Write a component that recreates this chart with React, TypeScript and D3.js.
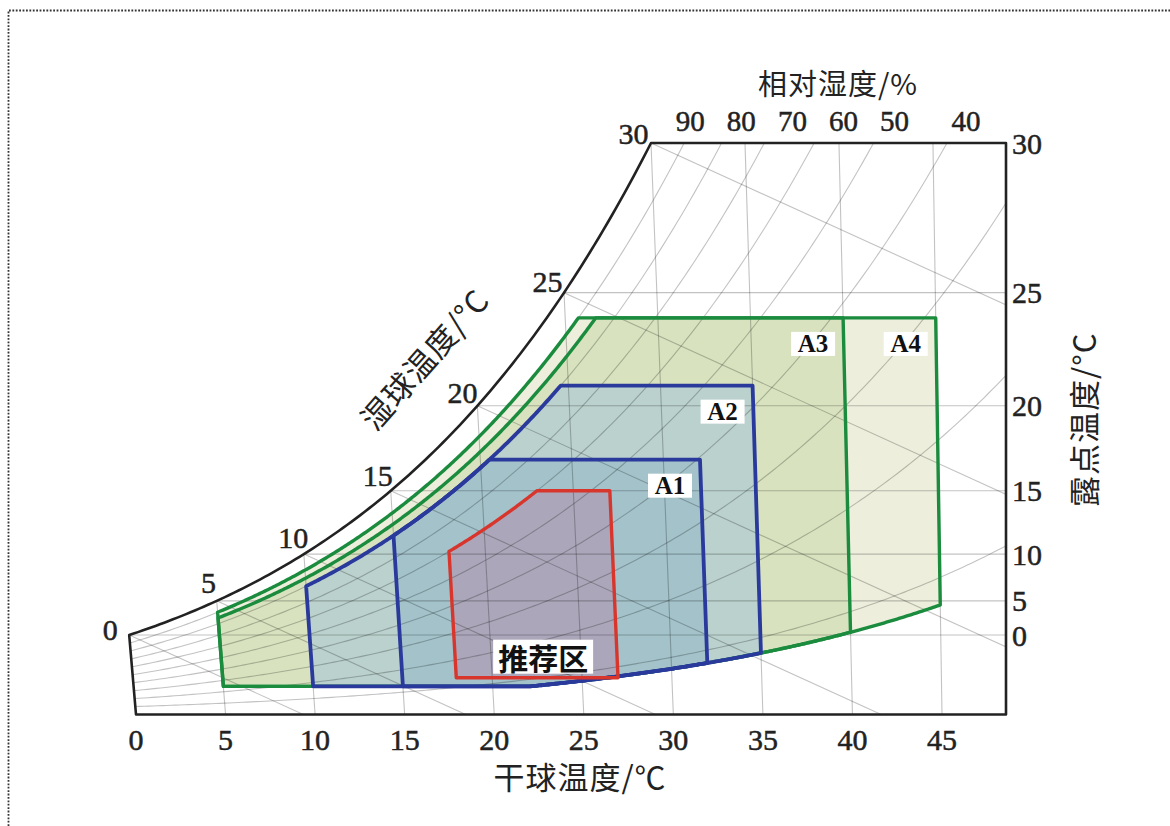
import React from "react";
import * as d3 from "d3";

// ---------- data ----------
const DRY_BULB_TICKS = [0, 5, 10, 15, 20, 25, 30, 35, 40, 45];
const DEW_POINT_TICKS = [0, 5, 10, 15, 20, 25, 30];
const WET_BULB_TICKS = [0, 5, 10, 15, 20, 25, 30];
const RH_TICKS = [90, 80, 70, 60, 50, 40];
const RH_GRID = [10, 20, 30, 40, 50, 60, 70, 80, 90];

const CLASS_NAMES = ["A4", "A3", "A2", "A1"];
const CLASS_T_MIN = [5, 5, 10, 15];
const CLASS_T_MAX = [45, 40, 35, 32];
const CLASS_DP_MIN = [-12, -12, -12, -12];
const CLASS_DP_MAX = [24, 24, 21, 17];
const CLASS_RH_MIN = [8, 8, 8, 8];
const CLASS_RH_MAX = [90, 85, 80, 80];

const REC_NAME = "推荐区";
const REC_T = [18, 27];
const REC_DP = [-9, 15];
const REC_RH_MAX = 60;

// ---------- styles ----------
const CLASS_FILL = ["#edefdc", "#d8e2bf", "#bad1cd", "#a3c2ca"];
const CLASS_STROKE = ["#1b8b3e", "#1b8b3e", "#2a3a9c", "#2a3a9c"];
const CLASS_STROKE_W = [3.4, 3.4, 3.8, 3.8];
const REC_FILL = "#aba6b9";
const REC_STROKE = "#d8362c";
const SERIF = "'Liberation Serif', 'DejaVu Serif', serif";
const CJK = "'Noto Sans CJK SC', 'Noto Sans', sans-serif";
const INK = "#222";

// ---------- psychrometrics (h-d chart projection) ----------
const P_ATM = 101.325;
const pws = (t: number) =>
  t >= 0
    ? 0.61094 * Math.exp((17.625 * t) / (t + 243.04))
    : 0.61115 * Math.exp((22.452 * t) / (272.55 + t));
const wsat = (t: number) => {
  const p = pws(t);
  return (622 * p) / (P_ATM - p);
};
const enth = (t: number, w: number) => 1.01 * t + w * (2.501 + 0.00184 * t);
const SKEW = 2.6026;

const W_TOP = wsat(30);
const xScale = d3.scaleLinear().domain([0, 1.01 * 45]).range([136, 942]);
const yScale = d3.scaleLinear().domain([0, W_TOP]).range([714.5, 143]);
const X_RIGHT = 1006;

const projHW = (h: number, w: number): [number, number] => [xScale(h - SKEW * w), yScale(w)];
const proj = (t: number, w: number): [number, number] => projHW(enth(t, w), w);

const solveT = (rh: number, w: number) => {
  let lo = -30, hi = 70;
  for (let i = 0; i < 60; i++) {
    const m = (lo + hi) / 2;
    if ((rh / 100) * wsat(m) < w) lo = m; else hi = m;
  }
  return (lo + hi) / 2;
};

function regionPoints(tMin: number, tMax: number, dpMin: number, dpMax: number, rhMin: number, rhMax: number) {
  const wLo = wsat(dpMin), wHi = wsat(dpMax);
  const up = (t: number) => Math.min(wHi, (rhMax / 100) * wsat(t));
  const lo = (t: number) => Math.max(wLo, (rhMin / 100) * wsat(t));
  let ts = d3.range(tMin, tMax, 0.1).concat([tMax]);
  const b1 = solveT(rhMax, wHi);
  if (b1 > tMin && b1 < tMax) ts.push(b1);
  if (rhMin > 0) {
    const b2 = solveT(rhMin, wLo);
    if (b2 > tMin && b2 < tMax) ts.push(b2);
  }
  ts = ts.sort((a, b) => a - b);
  const top = ts.map((t) => proj(t, up(t)));
  const bottom = ts.slice().reverse().map((t) => proj(t, lo(t)));
  return { pts: top.concat(bottom), corner: proj(tMax, up(tMax)), bl: proj(tMin, lo(tMin)), br: proj(tMax, lo(tMax)) };
}

const line = d3.line<[number, number]>();

// frame
const satPts: [number, number][] = d3.range(0, 30.0001, 0.25).map((t) => proj(t, wsat(t)));
const framePts: [number, number][] = [
  proj(0, 0),
  ...satPts,
  [X_RIGHT, yScale(W_TOP)],
  [X_RIGHT, yScale(0)],
];
const framePath = line(framePts) + "Z";

// grid
const gridPaths: string[] = [];
DRY_BULB_TICKS.filter((t) => t > 0).forEach((t) => {
  gridPaths.push(line([proj(t, 0), proj(t, Math.min(wsat(t), W_TOP))]) as string);
});
DEW_POINT_TICKS.filter((d) => d < 30).forEach((d) => {
  const w = wsat(d);
  gridPaths.push(line([proj(d, w), [X_RIGHT + 5, yScale(w)]]) as string);
});
RH_GRID.forEach((rh) => {
  const pts: [number, number][] = [];
  for (let t = 0; t <= 60; t += 0.25) {
    const w = (rh / 100) * wsat(t);
    pts.push(proj(t, w));
    if (w > W_TOP + 1) break;
  }
  gridPaths.push(line(pts) as string);
});
WET_BULB_TICKS.forEach((tw) => {
  const ws = wsat(tw);
  const h = enth(tw, ws);
  gridPaths.push(line([projHW(h, ws), projHW(h, -2)]) as string);
});

// regions
const classRegions = CLASS_NAMES.map((name, i) => ({
  name,
  ...regionPoints(CLASS_T_MIN[i], CLASS_T_MAX[i], CLASS_DP_MIN[i], CLASS_DP_MAX[i], CLASS_RH_MIN[i], CLASS_RH_MAX[i]),
  fill: CLASS_FILL[i],
  stroke: CLASS_STROKE[i],
  sw: CLASS_STROKE_W[i],
}));
const rec = regionPoints(REC_T[0], REC_T[1], REC_DP[0], REC_DP[1], 0, REC_RH_MAX);

// normal to the saturation curve (pointing up-left)
const satNormal = (t: number): [number, number] => {
  const a = proj(Math.max(t - 2.5, 0), wsat(Math.max(t - 2.5, 0)));
  const b = proj(Math.min(t + 2.5, 30), wsat(Math.min(t + 2.5, 30)));
  const dx = b[0] - a[0], dy = b[1] - a[1];
  const L = Math.hypot(dx, dy);
  return [dy / L, -dx / L];
};

// RH label positions along the top edge
const rhTopX = (rh: number) => proj(solveT(rh, W_TOP), W_TOP)[0];
const rhLabelScale = d3
  .scaleLinear()
  .domain([90, 50, 40])
  .range([rhTopX(90) + 6, rhTopX(50) + 21, rhTopX(40) + 19]);

// left axis title placement
const titleBase = proj(20, wsat(20));
const titleN = satNormal(20);
const titleAngle = (Math.atan2(titleN[0], -titleN[1]) * 180) / Math.PI;

const numStyle = { fontFamily: SERIF, fontSize: 30, fill: INK, stroke: INK, strokeWidth: 0.5 };
const titleStyle = { fontFamily: CJK, fontSize: 31, fill: INK, letterSpacing: 1 };

export default function App() {
  return (
    <svg
      width={1170}
      height={826}
      style={{ position: "absolute", left: 0, top: 0, background: "#fff" }}
      xmlns="http://www.w3.org/2000/svg"
    >
      <defs>
        <clipPath id="frameClip">
          <path d={framePath} />
        </clipPath>
      </defs>
      <rect x={0} y={0} width={1170} height={826} fill="#fff" />
      <path d="M8.5,826 V10.5 H1170" fill="none" stroke="#333" strokeWidth={1.8} strokeDasharray="1.8 1.6" />

      {/* region fills */}
      {classRegions.map((r) => (
        <path key={"f" + r.name} d={line(r.pts) + "Z"} fill={r.fill} stroke="none" />
      ))}
      <path d={line(rec.pts) + "Z"} fill={REC_FILL} stroke="none" />

      {/* grid lines */}
      <g clipPath="url(#frameClip)" fill="none" stroke="#000" strokeOpacity={0.24} strokeWidth={1.1}>
        {gridPaths.map((d, i) => (
          <path key={i} d={d} />
        ))}
      </g>

      {/* region outlines */}
      {classRegions.map((r) => (
        <path key={"s" + r.name} d={line(r.pts) + "Z"} fill="none" stroke={r.stroke} strokeWidth={r.sw} strokeLinejoin="round" />
      ))}
      <path d={line(rec.pts) + "Z"} fill="none" stroke={REC_STROKE} strokeWidth={3.4} strokeLinejoin="round" />

      {/* frame */}
      <path d={framePath} fill="none" stroke={INK} strokeWidth={2.6} strokeLinejoin="round" />

      {/* class labels */}
      {classRegions.map((r) => (
        <g key={"l" + r.name} transform={`translate(${r.corner[0] - 30},${r.corner[1] + 26})`}>
          <rect x={-22} y={-12} width={44} height={24} fill="#fff" />
          <text textAnchor="middle" dominantBaseline="central" fontFamily={SERIF} fontWeight="bold" fontSize={25} fill="#111">
            {r.name}
          </text>
        </g>
      ))}
      <g transform={`translate(${(rec.bl[0] + rec.br[0]) / 2 + 6},${rec.bl[1] - 21})`}>
        <rect x={-50} y={-17} width={100} height={34} fill="#fff" />
        <text textAnchor="middle" dominantBaseline="central" fontFamily={CJK} fontWeight={700} fontSize={30} fill="#111">
          {REC_NAME}
        </text>
      </g>

      {/* wet bulb labels */}
      {WET_BULB_TICKS.map((t) => {
        const p = proj(t, wsat(t));
        let n = satNormal(t);
        if (t === 0) n = [-0.95, -0.3];
        return (
          <text key={"wb" + t} x={p[0] + n[0] * 20} y={p[1] + n[1] * 20} textAnchor="middle" dominantBaseline="central" {...numStyle}>
            {t}
          </text>
        );
      })}

      {/* dry bulb ticks */}
      {DRY_BULB_TICKS.map((t) => (
        <text key={"db" + t} x={proj(t, 0)[0]} y={739} textAnchor="middle" dominantBaseline="central" {...numStyle}>
          {t}
        </text>
      ))}

      {/* dew point ticks */}
      {DEW_POINT_TICKS.map((d) => (
        <text key={"dp" + d} x={X_RIGHT + 6} y={yScale(wsat(d))} textAnchor="start" dominantBaseline="central" {...numStyle}>
          {d}
        </text>
      ))}

      {/* RH ticks */}
      {RH_TICKS.map((rh) => (
        <text key={"rh" + rh} x={rhLabelScale(rh)} y={121} textAnchor="middle" dominantBaseline="central" {...numStyle} fontSize={29}>
          {rh}
        </text>
      ))}

      {/* axis titles */}
      <text x={838} y={82} textAnchor="middle" dominantBaseline="central" {...titleStyle} fontSize={29}>
        相对湿度/%
      </text>
      <text x={580} y={775} textAnchor="middle" dominantBaseline="central" {...titleStyle}>
        干球温度/℃
      </text>
      <text transform={`translate(1082,${yScale(14)}) rotate(-90)`} textAnchor="middle" dominantBaseline="central" {...titleStyle}>
        露点温度/°C
      </text>
      <text
        transform={`translate(${titleBase[0] + titleN[0] * 72},${titleBase[1] + titleN[1] * 72}) rotate(${titleAngle})`}
        textAnchor="middle"
        dominantBaseline="central"
        {...titleStyle}
      >
        湿球温度/°C
      </text>
    </svg>
  );
}
